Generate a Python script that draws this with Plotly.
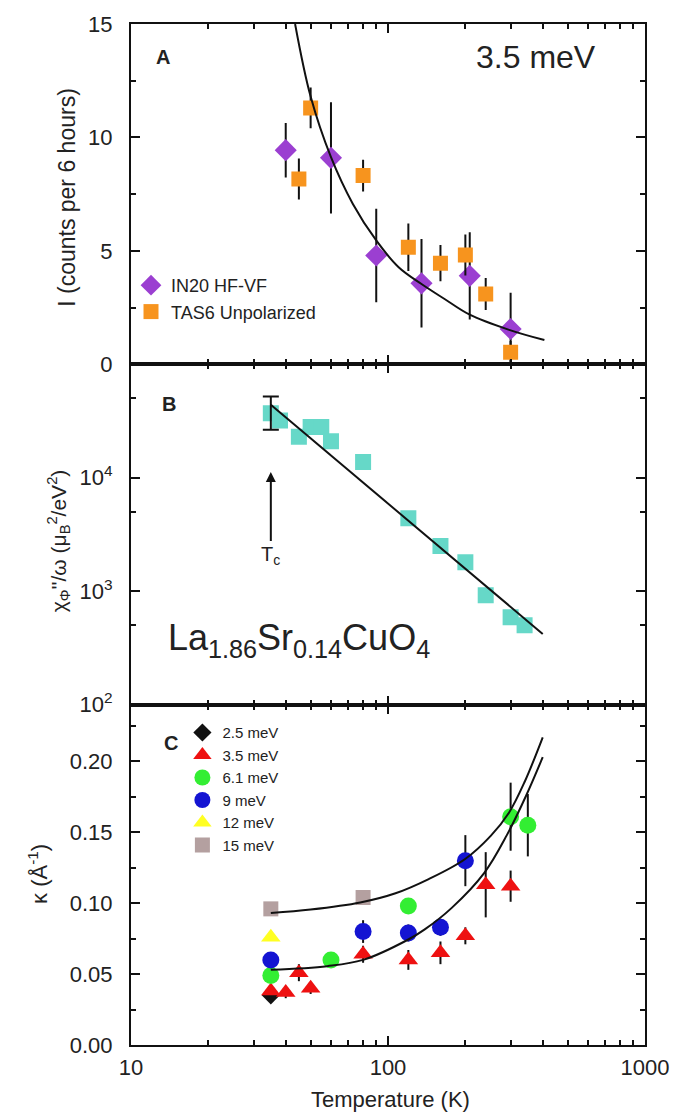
import math
import plotly.graph_objects as go
from plotly.subplots import make_subplots

# ---------------- Panel A: intensity at 3.5 meV ----------------
a_in20_T = [40, 60, 90, 135, 208, 300]
a_in20_I = [9.44, 9.1, 4.8, 3.57, 3.9, 1.56]
a_in20_err = [1.2, 2.45, 2.06, 1.95, 1.92, 1.6]

a_tas6_T = [45, 50, 80, 120, 160, 200, 240, 300]
a_tas6_I = [8.17, 11.3, 8.32, 5.16, 4.46, 4.82, 3.1, 0.53]
a_tas6_err = [0.9, 0.9, 0.7, 1.05, 0.8, 0.9, 0.7, 0.5]

a_fit_T = [43.5, 50, 60, 73, 90, 110, 135, 166, 207, 296, 406]
a_fit_I = [15, 11.8, 9.13, 7.07, 5.46, 4.28, 3.54, 2.88, 2.2, 1.52, 1.07]

# ---------------- Panel B: chi''/omega ----------------
b_T = [35, 38, 45, 50, 55, 60, 80, 120, 160, 200, 240, 300, 340]
b_chi = [3.7e4, 3.2e4, 2.3e4, 2.8e4, 2.8e4, 2.1e4, 1.38e4, 4.4e3, 2.5e3, 1.8e3, 920, 590, 500]
b_err_plus = [1.5e4]
b_err_minus = [1.05e4]
b_fit_T = [35, 400]
b_fit_chi = [4.4e4, 420]
b_tc = 35

# ---------------- Panel C: kappa ----------------
c_25_T = [35]
c_25_k = [0.035]
c_35_T = [35, 40, 45, 50, 80, 120, 160, 200, 240, 300]
c_35_k = [0.038, 0.037, 0.051, 0.040, 0.064, 0.060, 0.065, 0.077, 0.113, 0.112]
c_35_e = [0.004, 0.004, 0.006, 0.004, 0.006, 0.007, 0.008, 0.006, 0.023, 0.011]
c_61_T = [35, 60, 120, 300, 350]
c_61_k = [0.049, 0.060, 0.098, 0.161, 0.155]
c_61_e = [0.004, 0.004, 0.005, 0.024, 0.022]
c_9_T = [35, 80, 120, 160, 200]
c_9_k = [0.060, 0.080, 0.079, 0.083, 0.130]
c_9_e = [0.004, 0.008, 0.006, 0.006, 0.018]
c_12_T = [35]
c_12_k = [0.076]
c_15_T = [35, 80]
c_15_k = [0.096, 0.104]

c_fit_hi_T = [35, 50, 78, 107, 144, 199, 251, 296, 341, 400]
c_fit_hi_k = [0.093, 0.0955, 0.1005, 0.107, 0.117, 0.131, 0.1475, 0.164, 0.186, 0.217]
c_fit_lo_T = [35, 58, 80, 120, 139, 177, 237, 290, 346, 400]
c_fit_lo_k = [0.053, 0.0556, 0.060, 0.0744, 0.0815, 0.0967, 0.1214, 0.148, 0.1765, 0.203]

# ---------------- ticks ----------------
x_major = [10, 100, 1000]
x_major_text = ["10", "100", "1000"]
x_minor = [20, 30, 40, 50, 60, 70, 80, 90, 200, 300, 400, 500, 600, 700, 800, 900]
ya_major = [0, 5, 10, 15]
ya_minor = [2.5, 7.5, 12.5]
yb_major = [100, 1000, 10000]
yb_major_text = ["10<sup>2</sup>", "10<sup>3</sup>", "10<sup>4</sup>"]
yb_minor = [500, 5000, 50000]
yc_major = [0, 0.05, 0.10, 0.15, 0.20]
yc_major_text = ["0.00", "0.05", "0.10", "0.15", "0.20"]
yc_minor = [0.025, 0.075, 0.125, 0.175, 0.225]

FONT = "Liberation Sans, Arial, Helvetica, sans-serif"
TXT = "#222222"

fig = make_subplots(rows=3, cols=1, shared_xaxes=True, vertical_spacing=0)

eb = dict(type="data", color="#111111", thickness=2, width=0)

# Panel A
fig.add_trace(go.Scatter(x=a_in20_T, y=a_in20_I, mode="markers", name="IN20 HF-VF",
                         marker=dict(symbol="diamond", size=17, color="#9b3fd1"),
                         error_y=dict(array=a_in20_err, **eb), legend="legend"), row=1, col=1)
fig.add_trace(go.Scatter(x=a_tas6_T, y=a_tas6_I, mode="markers", name="TAS6 Unpolarized",
                         marker=dict(symbol="square", size=15, color="#f7941e"),
                         error_y=dict(array=a_tas6_err, **eb), legend="legend"), row=1, col=1)
fig.add_trace(go.Scatter(x=a_fit_T, y=a_fit_I, mode="lines",
                         line=dict(color="#111111", width=2, shape="spline", smoothing=1.0),
                         showlegend=False, hoverinfo="skip"), row=1, col=1)

# Panel B
fig.add_trace(go.Scatter(x=b_T, y=b_chi, mode="markers", showlegend=False,
                         marker=dict(symbol="square", size=16, color="#66d8c8")), row=2, col=1)
fig.add_trace(go.Scatter(x=b_T[:1], y=b_chi[:1], mode="markers", showlegend=False,
                         marker=dict(size=2, color="rgba(0,0,0,0)"),
                         error_y=dict(type="data", symmetric=False, array=b_err_plus, arrayminus=b_err_minus,
                                      color="#111111", thickness=2, width=8)), row=2, col=1)
fig.add_trace(go.Scatter(x=b_fit_T, y=b_fit_chi, mode="lines", line=dict(color="#111111", width=2),
                         showlegend=False, hoverinfo="skip"), row=2, col=1)

# Panel C
fig.add_trace(go.Scatter(x=c_25_T, y=c_25_k, mode="markers", name="2.5 meV",
                         marker=dict(symbol="diamond", size=14, color="#111111"), legend="legend2"), row=3, col=1)
fig.add_trace(go.Scatter(x=c_35_T, y=c_35_k, mode="markers", name="3.5 meV",
                         marker=dict(symbol="triangle-up", size=17, color="#ee1111"),
                         error_y=dict(array=c_35_e, **eb), legend="legend2"), row=3, col=1)
fig.add_trace(go.Scatter(x=c_61_T, y=c_61_k, mode="markers", name="6.1 meV",
                         marker=dict(symbol="circle", size=17, color="#33ee33"),
                         error_y=dict(array=c_61_e, **eb), legend="legend2"), row=3, col=1)
fig.add_trace(go.Scatter(x=c_9_T, y=c_9_k, mode="markers", name="9 meV",
                         marker=dict(symbol="circle", size=17, color="#1414d2"),
                         error_y=dict(array=c_9_e, **eb), legend="legend2"), row=3, col=1)
fig.add_trace(go.Scatter(x=c_12_T, y=c_12_k, mode="markers", name="12 meV",
                         marker=dict(symbol="triangle-up", size=17, color="#ffff22"), legend="legend2"), row=3, col=1)
fig.add_trace(go.Scatter(x=c_15_T, y=c_15_k, mode="markers", name="15 meV",
                         marker=dict(symbol="square", size=15, color="#b4a0a0"), legend="legend2"), row=3, col=1)
fig.add_trace(go.Scatter(x=c_fit_hi_T, y=c_fit_hi_k, mode="lines", line=dict(color="#111111", width=2, shape="spline"),
                         showlegend=False, hoverinfo="skip"), row=3, col=1)
fig.add_trace(go.Scatter(x=c_fit_lo_T, y=c_fit_lo_k, mode="lines", line=dict(color="#111111", width=2, shape="spline"),
                         showlegend=False, hoverinfo="skip"), row=3, col=1)

axis_common = dict(showline=True, linecolor="#111111", linewidth=2, mirror="allticks",
                   ticks="inside", tickcolor="#111111", tickwidth=2, ticklen=9,
                   showgrid=False, zeroline=False,
                   tickfont=dict(family=FONT, size=22, color=TXT))
minor_common = dict(ticks="inside", ticklen=5, tickcolor="#111111", tickwidth=2, showgrid=False)

for r in (1, 2, 3):
    fig.update_xaxes(type="log", range=[1, 3], tickmode="array", tickvals=x_major, ticktext=x_major_text,
                     minor=dict(tickmode="array", tickvals=x_minor, **minor_common),
                     ticklabelstandoff=2, row=r, col=1, **axis_common)
fig.update_xaxes(showticklabels=False, row=1, col=1)
fig.update_xaxes(showticklabels=False, row=2, col=1)

fig.update_yaxes(range=[0, 15], tickmode="array", tickvals=ya_major,
                 minor=dict(tickmode="array", tickvals=ya_minor, **minor_common),
                 ticklabelstandoff=12, row=1, col=1, **axis_common)
fig.update_yaxes(type="log", range=[2, 5], tickmode="array", tickvals=yb_major, ticktext=yb_major_text,
                 minor=dict(tickmode="array", tickvals=yb_minor, **minor_common),
                 ticklabelstandoff=12, row=2, col=1, **axis_common)
fig.update_yaxes(range=[0, 0.24], tickmode="array", tickvals=yc_major, ticktext=yc_major_text,
                 minor=dict(tickmode="array", tickvals=yc_minor, **minor_common),
                 ticklabelstandoff=12, row=3, col=1, **axis_common)

ann = []
def lab(text, x, y, size, bold=False, xanchor="center", yanchor="middle", angle=0):
    ann.append(dict(text=("<b>%s</b>" % text) if bold else text, x=x, y=y, xref="paper", yref="paper",
                    xanchor=xanchor, yanchor=yanchor, showarrow=False, textangle=angle,
                    font=dict(family=FONT, size=size, color=TXT)))

lab("A", 0.063, 0.968, 20, bold=True)
lab("3.5 meV", 0.788, 0.968, 32)
lab("B", 0.073, 0.6276, 20, bold=True)
lab("C", 0.078, 0.296, 20, bold=True)
lab("La<sub>1.86</sub>Sr<sub>0.14</sub>CuO<sub>4</sub>", 0.069, 0.397, 36, xanchor="left")
lab("I (counts per 6 hours)", -0.126, 0.83, 23, angle=-90)
lab("χ<sub>Φ</sub>''/ω (μ<sub>B</sub><sup>2</sup>/eV<sup>2</sup>)", -0.1415, 0.4936, 21, angle=-90)
lab("κ (Å<sup>-1</sup>)", -0.18, 0.168, 22, angle=-90)
lab("Temperature (K)", 0.505, -0.0538, 22)

ann.append(dict(text="T<sub>c</sub>", x=math.log10(b_tc), y=4.05, xref="x2", yref="y2",
                showarrow=True, ax=0, ay=83, arrowhead=2, arrowsize=1, arrowwidth=2,
                arrowcolor="#111111", standoff=0, font=dict(family=FONT, size=20, color=TXT)))

fig.update_layout(
    width=681, height=1114,
    margin=dict(l=131, r=27, t=22, b=69),
    paper_bgcolor="white", plot_bgcolor="white",
    annotations=ann,
    legend=dict(x=0.0, y=0.762, xanchor="left", yanchor="top", bgcolor="rgba(0,0,0,0)",
                font=dict(family=FONT, size=18, color=TXT), tracegroupgap=0),
    legend2=dict(x=0.1, y=0.322, xanchor="left", yanchor="top", bgcolor="rgba(0,0,0,0)",
                 font=dict(family=FONT, size=15, color=TXT), tracegroupgap=0),
)

fig.write_html("out.html")
